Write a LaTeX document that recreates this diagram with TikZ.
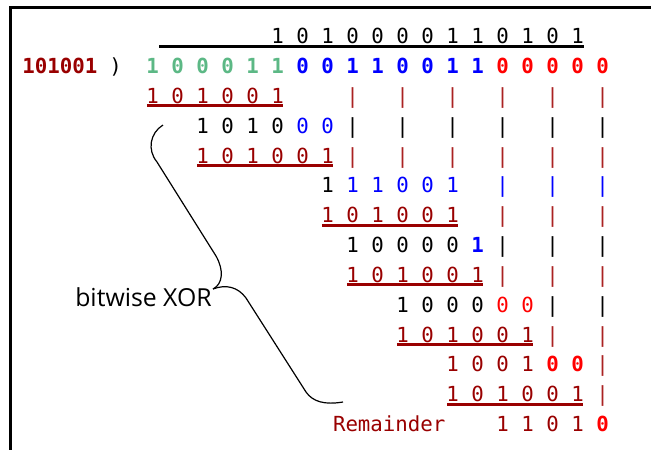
\documentclass[tikz,border=0pt]{standalone}
\usepackage{fontspec}
\newfontfamily\monofont{DejaVu Sans Mono}
\newfontfamily\labelfont{Open Sans}
\definecolor{dred}{HTML}{990000}
\definecolor{barred}{HTML}{AA2222}
\definecolor{dgreen}{HTML}{5CB885}
% a run of digits: prefix, first column, row, style, digit list
\newcommand\digitrow[5]{\foreach \dg [count=\k from #2] in {#5}
  \node[#4] (#1-\k) at ({152.5+25*\k},{36+29.85*#3+7.6}) {\dg};}
% column bars: prefix, row, colour, column list
\newcommand\barrow[4]{\foreach \k in {#4}
  \node[dig,text=#3] (#1-\k) at ({152.5+25*\k},{36+29.85*#2+7.6}) {|};}
% rule under a subtracted divisor: prefix, first column, last column
\newcommand\underrow[3]{\draw[uline] ([xshift=.7pt,yshift=-2.4pt]#1-#2.base west) -- ([xshift=-.7pt,yshift=-2.4pt]#1-#3.base east);}
\begin{document}
\begin{tikzpicture}[x=1pt,y=-1pt,
  dig/.style={font=\monofont\fontsize{20.76}{24}\selectfont, inner sep=0pt, outer sep=0pt, anchor=base},
  bdig/.style={dig, font=\monofont\bfseries\fontsize{20.76}{24}\selectfont},
  uline/.style={draw=dred, line width=3pt},
  frameline/.style={line width=3pt, black},
  brace/.style={line width=1.2pt, black}]
\path[use as bounding box] (0,0) rectangle (651,450);
\clip (0,0) rectangle (651,450);

% frame
\draw[frameline] (10.5,460) -- (10.5,7.5) -- (660,7.5);

% quotient
\digitrow{q}{5}{0}{dig}{1,0,1,0,0,0,0,1,1,0,1,0,1}

% divisor and dividend
\node[bdig, text=dred, anchor=base west] (dvs) at (22.5,{36+29.85+7.6}) {101001};
\node[dig] (paren) at (115.5,{36+29.85+7.6}) {)};
\digitrow{d}{0}{1}{bdig,text=dgreen}{1,0,0,0,1,1}
\digitrow{d}{6}{1}{bdig,text=blue}{0,0,1,1,0,0,1,1}
\digitrow{d}{14}{1}{bdig,text=red}{0,0,0,0,0}
\draw[frameline] ([yshift=-2.4pt]q-17.base east) -- ([yshift=-2.4pt]q-17.base east -| d-0.base east);

% step 1
\digitrow{a2}{0}{2}{dig,text=dred}{1,0,1,0,0,1}
\barrow{b2}{2}{barred}{8,10,12,14,16,18}
\underrow{a2}{0}{5}
\digitrow{a3}{2}{3}{dig}{1,0,1,0}
\digitrow{a3}{6}{3}{dig,text=blue}{0,0}
\barrow{b3}{3}{black}{8,10,12,14,16,18}

% step 2
\digitrow{a4}{2}{4}{dig,text=dred}{1,0,1,0,0,1}
\barrow{b4}{4}{barred}{8,10,12,14,16,18}
\underrow{a4}{2}{7}
\digitrow{a5}{7}{5}{dig}{1}
\digitrow{a5}{8}{5}{dig,text=blue}{1,1,0,0,1}
\barrow{b5}{5}{blue}{14,16,18}

% step 3
\digitrow{a6}{7}{6}{dig,text=dred}{1,0,1,0,0,1}
\barrow{b6}{6}{barred}{14,16,18}
\underrow{a6}{7}{12}
\digitrow{a7}{8}{7}{dig}{1,0,0,0,0}
\digitrow{a7}{13}{7}{bdig,text=blue}{1}
\barrow{b7}{7}{black}{14,16,18}

% step 4
\digitrow{a8}{8}{8}{dig,text=dred}{1,0,1,0,0,1}
\barrow{b8}{8}{barred}{14,16,18}
\underrow{a8}{8}{13}
\digitrow{a9}{10}{9}{dig}{1,0,0,0}
\digitrow{a9}{14}{9}{dig,text=red}{0,0}
\barrow{b9}{9}{black}{16,18}

% step 5
\digitrow{a10}{10}{10}{dig,text=dred}{1,0,1,0,0,1}
\barrow{b10}{10}{barred}{16,18}
\underrow{a10}{10}{15}
\digitrow{a11}{12}{11}{dig,text=dred}{1,0,0,1}
\digitrow{a11}{16}{11}{bdig,text=red}{0,0}
\barrow{b11}{11}{barred}{18}

% step 6 and remainder
\digitrow{a12}{12}{12}{dig,text=dred}{1,0,1,0,0,1}
\barrow{b12}{12}{barred}{18}
\underrow{a12}{12}{17}
\node[dig, text=dred, anchor=base west] (rem) at (333,{36+29.85*13+7.6}) {Remainder};
\digitrow{a13}{14}{13}{dig,text=dred}{1,1,0,1}
\digitrow{a13}{18}{13}{bdig,text=red}{0}

% brace marking the XOR steps
\draw[brace] (163,125) .. controls (150,133) and (147,150) .. (157,162)
  -- (216,256) .. controls (224,270) and (223,284) .. (213,289);
\draw[brace] (213,289) .. controls (226,284) and (238,287) .. (246,298)
  -- (306,392) .. controls (313,402) and (325,405) .. (343,402);
\node[font=\labelfont\fontsize{24.8}{29}\selectfont, inner sep=0pt] (xorlabel) at (143.5,297) {bitwise XOR};
\end{tikzpicture}
\end{document}
